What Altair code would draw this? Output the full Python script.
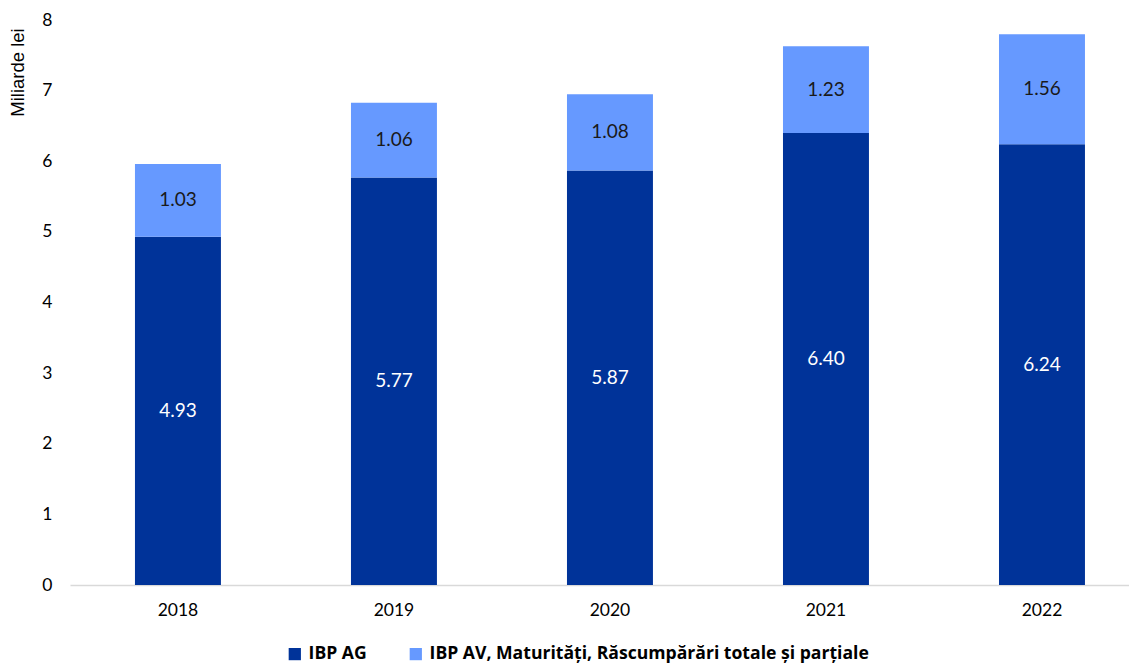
import altair as alt
import pandas as pd

years = ["2018", "2019", "2020", "2021", "2022"]
ag = [4.93, 5.77, 5.87, 6.40, 6.24]
av = [1.03, 1.06, 1.08, 1.23, 1.56]
series = ["IBP AG", "IBP AV, Maturități, Răscumpărări totale și parțiale"]
colors = ["#003399", "#6699FF"]

rows = []
for y, a, b in zip(years, ag, av):
    rows.append({"year": y, "series": series[0], "value": a, "ord": 0, "start": 0.0, "end": a})
    rows.append({"year": y, "series": series[1], "value": b, "ord": 1, "start": a, "end": a + b})
df = pd.DataFrame(rows)
df["mid"] = (df["start"] + df["end"]) / 2
df["label"] = df["value"].map(lambda v: f"{v:.2f}")

xscale = alt.Scale(paddingInner=0.602, paddingOuter=0.2523, align=0.596)
yscale = alt.Scale(domain=[0, 8], nice=False)
xaxis = alt.Axis(title=None, labelAngle=0, ticks=False, domainColor="#d9d9d9",
                 domainWidth=1.5, labelPadding=16, labelFontSize=17.5,
                 labelFont="Lato", labelColor="#000000")
yaxis = alt.Axis(title="Miliarde lei", values=list(range(0, 9)), format="d", grid=False,
                 ticks=False, domain=False, labelPadding=18, labelFontSize=17.5,
                 labelFont="Lato", labelColor="#000000", titleFont="Liberation Sans",
                 titleFontSize=18.5, titleFontWeight="normal", titleColor="#000000",
                 titleAngle=-90, titleX=-53, titleY=52, titleAlign="center",
                 titleBaseline="middle")

bars = alt.Chart(df).mark_bar().encode(
    x=alt.X("year:N", scale=xscale, sort=years, axis=xaxis),
    y=alt.Y("start:Q", scale=yscale, axis=yaxis),
    y2="end:Q",
    color=alt.Color("series:N", scale=alt.Scale(domain=series, range=colors),
                    legend=alt.Legend(title=None, orient="none", legendX=216, legendY=625,
                                      direction="horizontal", symbolType="square",
                                      symbolSize=150, symbolStrokeWidth=0, labelFontSize=17.6,
                                      labelFont="Open Sans", labelFontWeight="bold",
                                      labelColor="#000000", columnPadding=40,
                                      labelLimit=700, labelOffset=5)),
)

text = alt.Chart(df).mark_text(fontSize=19, font="Lato").encode(
    x=alt.X("year:N", scale=xscale, sort=years, axis=xaxis),
    y=alt.Y("mid:Q", scale=yscale, axis=yaxis),
    text="label:N",
    color=alt.Color("series:N", scale=alt.Scale(domain=series, range=["#ffffff", "#1a1a1a"]),
                    legend=None),
)

chart = alt.layer(bars, text).resolve_scale(color="independent").properties(
    width=1059, height=565,
    autosize=alt.AutoSizeParams(type="none"),
    padding={"left": 62, "top": 12, "right": 0, "bottom": 79},
).configure_view(stroke=None)

chart.save("out.html", embed_options={"renderer": "svg", "actions": False})
